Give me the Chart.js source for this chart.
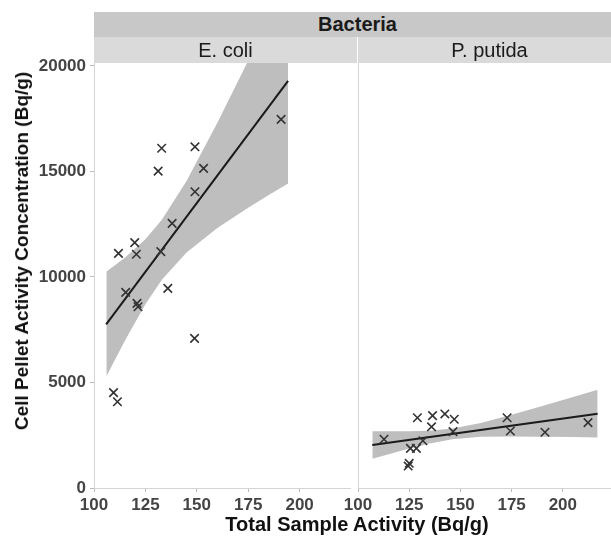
<!DOCTYPE html>
<html>
<head>
<meta charset="utf-8">
<script src="https://cdn.jsdelivr.net/npm/chart.js@4"></script>
<style>
  html, body { margin: 0; padding: 0; background: #fff; overflow: hidden; }
  body { width: 611px; height: 538px; position: relative; font-family: "Liberation Sans", Arial, sans-serif; }
  .strip { position: absolute; text-align: center; color: #1a1a1a; }
  #top { left: 94px; top: 12px; width: 527px; height: 25px; line-height: 25px; background: #c8c8c8; font-weight: bold; font-size: 20px; }
  #s1 { left: 94px; top: 37px; width: 263px; height: 26px; line-height: 26px; background: #dadada; font-size: 20px; }
  #s2 { left: 358px; top: 37px; width: 263px; height: 26px; line-height: 26px; background: #dadada; font-size: 20px; }
  #ytitle { position: absolute; left: 22px; top: 251px; transform: translate(-50%, -50%) rotate(-90deg); white-space: nowrap; font-weight: bold; font-size: 19px; color: #111; }
  #xtitle { position: absolute; left: 357px; top: 524px; transform: translate(-50%, -50%); white-space: nowrap; font-weight: bold; font-size: 20px; color: #111; }
  canvas { position: absolute; }
</style>
</head>
<body>
<canvas id="left" style="left:0;top:0;width:358px;height:538px"></canvas>
<canvas id="right" style="left:300px;top:0;width:321px;height:538px"></canvas>
<div class="strip" id="top">Bacteria</div>
<div class="strip" id="s1">E. coli</div>
<div class="strip" id="s2">P. putida</div>
<div id="ytitle">Cell Pellet Activity Concentration (Bq/g)</div>
<div id="xtitle">Total Sample Activity (Bq/g)</div>
<script>
// E. coli points
const ecoliX = [111.9, 119.8, 120.6, 131.2, 132.9, 149.1, 153.3, 149.1, 138.0, 132.5, 191.0, 115.4, 120.9, 121.4, 135.9, 148.9, 109.5, 111.4];
const ecoliY = [11120, 11630, 11080, 15020, 16100, 16170, 15150, 14040, 12540, 11200, 17470, 9270, 8750, 8590, 9460, 7090, 4520, 4090];

// P. putida points
const putidaX = [112.7, 129.0, 136.4, 135.9, 142.4, 147.0, 146.4, 131.7, 128.5, 125.6, 125.0, 124.5, 172.8, 174.4, 191.3, 212.3];
const putidaY = [2310, 3330, 3430, 2900, 3510, 3260, 2670, 2240, 1880, 1880, 1170, 1040, 3330, 2700, 2640, 3100];

// fitted lines
const ecoliFitX = [105.9, 194.4];
const ecoliFitY = [7758, 19298];
const putidaFitX = [107, 217];
const putidaFitY = [2038, 3524];

// confidence bands
const ecoliBandX = [106, 115, 125, 133, 145, 160, 175, 185, 194.4];
const ecoliBandLow = [5289, 6982, 8706, 9869, 11166, 12319, 13283, 13885, 14436];
const ecoliBandHigh = [10253, 10908, 11792, 12715, 14548, 17307, 20255, 22261, 24160];
const putidaBandX = [107, 115, 125, 135, 146, 160, 175, 190, 205, 217];
const putidaBandLow = [1384, 1604, 1871, 2113, 2315, 2423, 2443, 2433, 2414, 2396];
const putidaBandHigh = [2692, 2688, 2691, 2719, 2815, 3085, 3471, 3885, 4310, 4652];

const xTicks = [100, 125, 150, 175, 200];
const yTicks = [0, 5000, 10000, 15000, 20000];

const pts = (xs, ys) => xs.map((x, i) => ({ x: x, y: ys[i] }));
const font = { family: "'Liberation Sans', Arial, sans-serif", size: 17, weight: 'bold' };

function datasets(px, py, fx, fy, bx, bl, bh) {
  return [
    { data: pts(bx, bl), order: 4, borderWidth: 0, pointRadius: 0, fill: false, tension: 0 },
    { data: pts(bx, bh), order: 3, borderWidth: 0, pointRadius: 0, fill: '-1', backgroundColor: 'rgb(190,190,190)', tension: 0 },
    { data: pts(fx, fy), order: 2, borderColor: '#1a1a1a', borderWidth: 2, pointRadius: 0, fill: false },
    { data: pts(px, py), order: 1, showLine: false, pointStyle: 'crossRot', pointRadius: 6,
      pointBorderColor: '#333', pointBorderWidth: 1.6, fill: false }
  ];
}

function makeChart(id, ds, showY, yWidth, padRight) {
  return new Chart(document.getElementById(id), {
    type: 'line',
    data: { datasets: ds },
    options: {
      animation: false,
      responsive: false,
      layout: { padding: { top: 63, right: padRight, left: 0, bottom: 0 } },
      plugins: { legend: { display: false }, tooltip: { enabled: false } },
      scales: {
        x: {
          type: 'linear', min: 100, max: 224.7,
          afterBuildTicks: s => { s.ticks = xTicks.map(v => ({ value: v })); },
          afterFit: s => { s.height = 50; },
          ticks: { font: font, color: '#444', padding: 3, maxRotation: 0, callback: v => String(v) },
          grid: { drawOnChartArea: false, tickLength: 4, color: '#bbb' },
          border: { color: '#d4d4d4' }
        },
        y: {
          min: 0, max: 20142,
          afterBuildTicks: s => { s.ticks = yTicks.map(v => ({ value: v })); },
          afterFit: s => { s.width = yWidth; },
          ticks: { display: showY, font: font, color: '#444', padding: 4, callback: v => String(v) },
          grid: { drawOnChartArea: false, drawTicks: showY, tickLength: 4, color: '#bbb' },
          border: { color: '#d4d4d4' }
        }
      }
    }
  });
}

const c1 = document.getElementById('left'); c1.width = 358; c1.height = 538;
const c2 = document.getElementById('right'); c2.width = 321; c2.height = 538;

makeChart('left', datasets(ecoliX, ecoliY, ecoliFitX, ecoliFitY, ecoliBandX, ecoliBandLow, ecoliBandHigh), true, 94, 1);
makeChart('right', datasets(putidaX, putidaY, putidaFitX, putidaFitY, putidaBandX, putidaBandLow, putidaBandHigh), false, 58, 0);
</script>
</body>
</html>
